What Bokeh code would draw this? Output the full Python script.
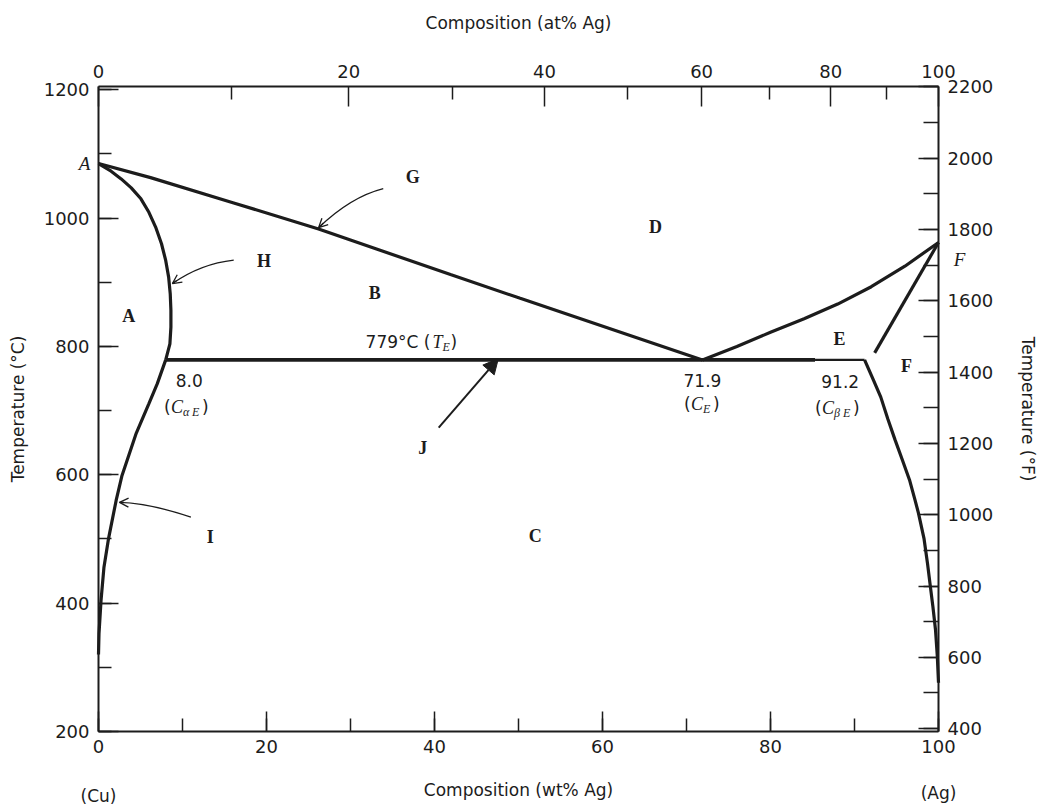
from bokeh.plotting import figure
from bokeh.models import (Label, Arrow, OpenHead, NormalHead, LinearAxis, Range1d,
                          FixedTicker, SingleIntervalTicker, CustomJSTickFormatter)
from bokeh.embed import file_html
from bokeh.resources import INLINE

# ---------------- data (wt% Ag, temperature in degC) ----------------
liq_left_wt = [0, 6.2, 16, 26.2, 41.9, 50.2, 71.9]
liq_left_T = [1085, 1063, 1024, 983, 912, 875, 779]
liq_right_wt = [71.9, 76, 80, 84, 88, 92, 96, 100]
liq_right_T = [779, 800, 822, 843, 866, 893, 925, 962]
sol_left_wt = [0, 1.5, 2.7, 3.9, 5.05, 6.0, 6.8, 7.5, 8.0, 8.35, 8.54, 8.62, 8.62, 8.5, 8.0]
sol_left_T = [1085, 1073, 1061, 1047, 1030, 1009, 986, 960, 934, 908, 882, 856, 830, 804, 779]
solv_left_wt = [8.0, 7.0, 6.0, 4.5, 2.8, 2.1, 1.2, 0.65, 0.3, 0.06, 0]
solv_left_T = [779, 742, 711, 665, 599, 560, 501, 456, 404, 353, 320]
sol_right_wt = [100, 92.4]
sol_right_T = [962, 790]
solv_right_wt = [91.2, 92.27, 93.13, 93.97, 94.84, 95.7, 96.55, 97.2, 97.62, 98.27, 98.69,
                 99.04, 99.33, 99.64, 99.86, 100]
solv_right_T = [779, 747, 721, 687, 654, 623, 592, 561, 540, 501, 462, 425, 395, 359, 317, 276]
eut_thick_wt = [8.0, 85.3]
eut_thin_wt = [85.3, 91.2]
eut_T = 779

wt_min, wt_max = 0, 100          # composition axis (wt% Ag)
T_min, T_max = 200, 1205         # temperature axis (degC)
at_ticks = [0, 20, 40, 60, 80, 100]
at_minor = [10, 30, 50, 70, 90]
M_AG, M_CU = 107.87, 63.55


def at_to_wt(a):
    return 100.0 * a * M_AG / (a * M_AG + (100 - a) * M_CU)


def c_to_f(c):
    return c * 1.8 + 32


at_pos = [round(at_to_wt(a), 3) for a in at_ticks]
at_minor_pos = [round(at_to_wt(a), 3) for a in at_minor]
at_labels = [str(a) for a in at_ticks]

INK = "#1c1c1c"
SANS = "DejaVu Sans"
SERIF = "Liberation Serif"

# whole canvas is the plotting area; the diagram box is drawn by axes at fixed locations
X0, X1 = -11.667, 112.5
Y0, Y1 = 84.7, 1339.0
p = figure(width=1043, height=805, output_backend="svg", toolbar_location=None,
           x_range=Range1d(X0, X1), y_range=Range1d(Y0, Y1),
           x_axis_location=None, y_axis_location=None,
           min_border=0, min_border_left=0, min_border_right=0,
           min_border_top=0, min_border_bottom=0)
p.outline_line_color = None
p.xgrid.visible = False
p.ygrid.visible = False
p.background_fill_color = "white"
p.border_fill_color = "white"


def style(ax, label, stand, lab_stand):
    ax.axis_label = label
    ax.axis_label_text_font = SANS
    ax.axis_label_text_font_size = "17px"
    ax.axis_label_text_font_style = "normal"
    ax.axis_label_text_color = INK
    ax.axis_label_standoff = stand
    ax.major_label_standoff = lab_stand
    ax.major_label_text_font = SANS
    ax.major_label_text_font_size = "18px"
    ax.major_label_text_color = INK
    ax.axis_line_width = 2
    ax.axis_line_color = INK
    ax.major_tick_in = 20
    ax.major_tick_out = 0
    ax.minor_tick_in = 13
    ax.minor_tick_out = 0
    ax.major_tick_line_width = 1.5
    ax.minor_tick_line_width = 1.5
    ax.major_tick_line_color = INK
    ax.minor_tick_line_color = INK


bottom = LinearAxis(ticker=SingleIntervalTicker(interval=20, num_minor_ticks=2),
                    fixed_location=T_min, bounds=(wt_min, wt_max))
style(bottom, "Composition (wt% Ag)", 24, 8)
p.add_layout(bottom, "below")

top = LinearAxis(ticker=FixedTicker(ticks=at_pos, minor_ticks=at_minor_pos),
                 fixed_location=T_max, bounds=(wt_min, wt_max),
                 formatter=CustomJSTickFormatter(args=dict(pos=at_pos, lab=at_labels), code="""
let best = 0, d = 1e9;
for (let i = 0; i < pos.length; i++) { const e = Math.abs(pos[i] - tick); if (e < d) { d = e; best = i; } }
return lab[best];
"""))
style(top, "Composition (at% Ag)", 29, 9)
p.add_layout(top, "above")

left = LinearAxis(ticker=SingleIntervalTicker(interval=200, num_minor_ticks=2),
                  fixed_location=wt_min, bounds=(T_min, T_max))
style(left, "Temperature (°C)", 13, 9)
p.add_layout(left, "left")

p.extra_y_ranges = {"F": Range1d(c_to_f(Y0), c_to_f(Y1))}
right = LinearAxis(y_range_name="F", ticker=SingleIntervalTicker(interval=200, num_minor_ticks=2),
                   fixed_location=wt_max, bounds=(c_to_f(T_min), c_to_f(T_max)))
style(right, "Temperature (°F)", 22, 9)
right.minor_tick_in = 15
p.add_layout(right, "right")

# ---------------- phase boundaries ----------------
LW = 3.2
p.line(liq_left_wt, liq_left_T, line_width=LW, line_color=INK)
p.line(liq_right_wt, liq_right_T, line_width=LW, line_color=INK)
p.line(sol_left_wt, sol_left_T, line_width=LW, line_color=INK)
p.line(solv_left_wt, solv_left_T, line_width=LW, line_color=INK)
p.line(sol_right_wt, sol_right_T, line_width=LW, line_color=INK)
p.line(solv_right_wt, solv_right_T, line_width=LW, line_color=INK)
p.line(eut_thick_wt, [eut_T, eut_T], line_width=3.8, line_color=INK)
p.line(eut_thin_wt, [eut_T, eut_T], line_width=2.4, line_color=INK)

# ---------------- pointer arrows ----------------
curves = [  # (x0, y0, cx, cy, x1, y1)
    (33.9, 1046, 30.0, 1033, 26.2, 985),
    (16.1, 934.5, 12.2, 929, 8.8, 898),
    (11.0, 534, 6.0, 556, 2.5, 557),
]
for x0, y0, cx, cy, x1, y1 in curves:
    p.quadratic(x0=[x0], y0=[y0], x1=[x1], y1=[y1], cx=[cx], cy=[cy],
                line_width=1.3, line_color=INK)
    xs, ys = x1 + 0.15 * (cx - x1), y1 + 0.15 * (cy - y1)
    p.add_layout(Arrow(end=OpenHead(size=9, line_width=1.3, line_color=INK),
                       x_start=xs, y_start=ys, x_end=x1, y_end=y1,
                       line_width=1.3, line_color=INK))

p.add_layout(Arrow(end=NormalHead(size=15, line_color=INK, fill_color=INK, line_width=1),
                   x_start=40.5, y_start=673.5, x_end=47.6, y_end=781,
                   line_width=2, line_color=INK))


# ---------------- texts ----------------
def lab(x, y, text, font=SANS, size="17px", style_="normal", align="center", dx=0, dy=0):
    p.add_layout(Label(x=x, y=y, text=text, text_font=font, text_font_size=size,
                       text_font_style=style_, text_align=align, text_baseline="middle",
                       text_color=INK, x_offset=dx, y_offset=dy))


for t, x, y in [("G", 37.4, 1064), ("H", 19.7, 933), ("A", 3.6, 847), ("B", 32.9, 883),
                ("D", 66.3, 986), ("E", 88.2, 812), ("F", 96.2, 770), ("C", 52.0, 504),
                ("I", 13.3, 503), ("J", 38.6, 641)]:
    lab(x, y, t, font=SERIF, size="18px", style_="bold")

lab(-1.67, 1085, "A", font=SERIF, size="19px", style_="italic")
lab(102.5, 935, "F", font=SERIF, size="19px", style_="italic")

lab(10.8, 747, "8.0")
lab(71.9, 747, "71.9")
lab(88.3, 745, "91.2")

# 779°C (T_E)
lab(31.8, 807, "779°C (", align="left")
lab(31.8, 807, "T", font=SERIF, size="18px", style_="italic", align="left", dx=67)
lab(31.8, 807, "E", font=SERIF, size="12px", style_="italic", align="left", dx=77, dy=-5)
lab(31.8, 807, ")", align="left", dx=85)


def csub(x, y, subs):
    lab(x, y, "(", align="left")
    lab(x, y, "C", font=SERIF, size="18px", style_="italic", align="left", dx=7)
    off = 19
    for s in subs:
        lab(x, y, s, font=SERIF, size="12px", style_="italic", align="left", dx=off, dy=-5)
        off += 9
    lab(x, y, ")", align="left", dx=off + 1)


csub(7.8, 705, ["α", "E"])
csub(69.7, 709.7, ["E"])
csub(85.3, 704.8, ["β", "E"])

lab(0, 100, "(Cu)")
lab(100, 104, "(Ag)")

open("out.html", "w").write(file_html(p, INLINE))
